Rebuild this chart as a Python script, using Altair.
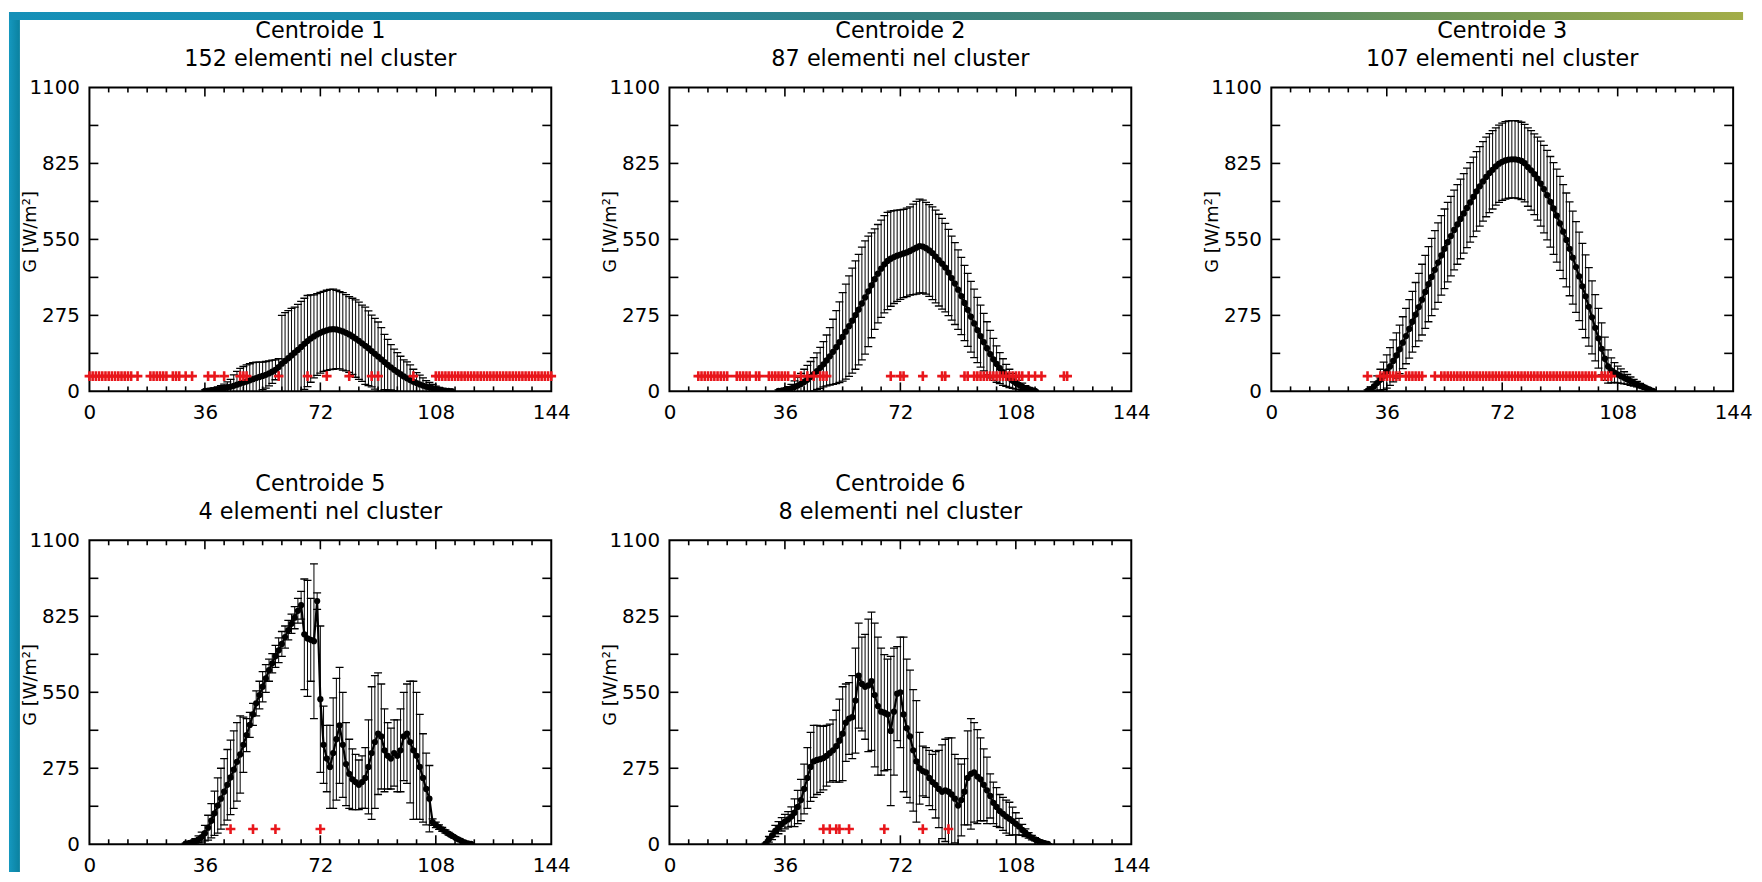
import altair as alt
import pandas as pd

FONT = "DejaVu Sans"
W, H = 465, 306

# ---------------- axis tick values ----------------
X_LABELS = [0, 36, 72, 108, 144]
X_MAJOR_IN = [36, 72, 108]
X_MINOR = [6, 12, 18, 24, 30, 42, 48, 54, 60, 66, 78, 84, 90, 96, 102, 114, 120, 126, 132, 138]
Y_LABELS = [0, 275, 550, 825, 1100]
Y_TICKS = [137.5, 275, 412.5, 550, 687.5, 825, 962.5]
RED_LEVEL = 55
Y_TITLE = "G [W/m\u00b2]"

# ---------------- Centroide 1 ----------------
P1_TITLE = ["Centroide 1", "152 elementi nel cluster"]
P1_START = 36
P1_MEAN = [2, 3, 4, 5, 7, 9, 11, 14, 17, 20,
           24, 28, 32, 36, 40, 44, 48, 52, 56, 60,
           65, 71, 78, 88, 100, 110, 120, 130, 140, 150,
           161, 172, 182, 191, 199, 206, 212, 217, 221, 224,
           225, 224, 221, 217, 212, 206, 199, 191, 183, 174,
           165, 156, 146, 136, 126, 116, 106, 96, 87, 78,
           70, 62, 54, 47, 41, 35, 30, 25, 21, 17,
           14, 11, 8, 6, 4, 3, 2, 1]
P1_STD = [3, 4, 5, 7, 9, 12, 15, 20, 26, 40,
          48, 55, 58, 60, 60, 60, 58, 54, 50, 48,
          45, 42, 36, 30, 175, 175, 172, 170, 165, 165,
          165, 165, 165, 158, 150, 148, 146, 145, 145, 145,
          145, 142, 140, 140, 138, 137, 138, 140, 140, 138,
          140, 135, 130, 128, 125, 115, 100, 92, 82, 75,
          70, 65, 60, 60, 55, 45, 38, 34, 28, 22,
          18, 14, 11, 8, 6, 4, 2, 1]
P1_RED = [0, 1, 2, 3, 4, 5, 6, 7, 8, 9, 10, 11, 12, 13, 15,
          19, 20, 21, 22, 23, 24, 26, 27, 28, 30, 32,
          37, 39, 42, 47, 48, 49, 59, 68, 74, 81, 88, 90, 101,
          108, 109, 110, 111, 112, 113, 114, 115, 116, 117, 118, 119, 120,
          121, 122, 123, 124, 125, 126, 127, 128, 129, 130, 131, 132, 133,
          134, 135, 136, 137, 138, 139, 140, 141, 142, 143, 144]

# ---------------- Centroide 2 ----------------
P2_TITLE = ["Centroide 2", "87 elementi nel cluster"]
P2_START = 34
P2_MEAN = [2, 3, 5, 8, 11, 16, 21, 27, 34, 42,
           52, 62, 73, 85, 98, 112, 127, 143, 160, 178,
           197, 216, 236, 256, 276, 296, 318, 340, 362, 384,
           406, 426, 444, 460, 472, 480, 486, 491, 495, 499,
           503, 508, 514, 520, 526, 524, 518, 510, 500, 488,
           475, 462, 448, 430,
           410, 390, 368, 345, 320, 295, 270, 246, 222, 200,
           178, 156, 135, 116, 99, 84, 70, 58, 47, 38,
           30, 23, 17, 12, 8, 4, 2]
P2_STD = [3, 4, 6, 9, 14, 22, 30, 38, 46, 52,
          56, 60, 66, 74, 82, 92, 104, 118, 132, 146,
          160, 172, 182, 190, 196, 200, 204, 205, 200, 190,
          182, 178, 176, 176, 176, 172, 168, 165, 162, 160,
          160, 160, 164, 168, 170, 168, 166, 166, 168, 168,
          166, 164, 160, 156, 152, 148, 144, 140, 136, 132,
          128, 124, 118, 112, 104, 96, 86, 76, 66, 56,
          48, 40, 33, 27, 22, 17, 13, 9, 6, 4,
          2]
P2_RED = [9, 10, 11, 12, 13, 14, 15, 16, 17, 18,
          21, 22, 23, 24, 25, 27, 28, 31, 32, 33, 34, 35, 36, 37,
          39, 41, 43, 45, 47, 48, 49, 69, 72, 73, 79, 85, 86, 92, 93,
          95, 96, 97, 98, 99, 100, 101, 102, 103, 104, 105, 106, 107, 108, 109, 110,
          112, 114, 116, 123, 124]

# ---------------- Centroide 3 ----------------
P3_TITLE = ["Centroide 3", "107 elementi nel cluster"]
P3_START = 30
P3_MEAN = [2, 8, 18, 30, 42, 56, 72, 90, 110, 130,
           152, 176, 200, 226, 252, 278, 305, 332, 360, 388,
           414, 440, 466, 492, 516, 540, 562, 584, 604, 624,
           644, 664, 684, 704, 724, 742, 760, 776, 790, 802,
           814, 824, 831, 836, 839, 840, 840, 838, 834, 826,
           812, 800, 786, 770, 752, 732, 710, 686, 662, 636,
           608, 578, 548, 516, 484, 450, 416, 380, 344, 306,
           268, 230, 192, 154, 118, 90, 76, 68, 61, 55,
           49, 43, 37, 31, 26, 21, 16, 11, 6, 2]
P3_STD = [3, 8, 16, 26, 38, 50, 60, 68, 76, 82,
          88, 94, 100, 106, 110, 116, 122, 128, 132, 136,
          140, 142, 144, 144, 144, 144, 144, 144, 144, 144,
          144, 144, 144, 144, 144, 144, 144, 144, 143, 142,
          140, 140, 140, 140, 140, 140, 140, 140, 140, 140,
          142, 144, 146, 150, 154, 158, 162, 164, 166, 168,
          170, 170, 170, 170, 168, 164, 160, 156, 150, 142,
          132, 120, 108, 94, 78, 60, 45, 36, 30, 26,
          22, 18, 15, 12, 10, 8, 6, 4, 3, 2]
P3_RED = [30, 34, 35, 36, 37, 38, 39, 40, 42, 43, 44, 45, 46, 47, 51,
          53, 54, 55, 56, 57, 58, 59, 60, 61, 62, 63, 64, 65, 66, 67, 68, 69, 70,
          71, 72, 73, 74, 75, 76, 77, 78, 79, 80, 81, 82, 83, 84, 85, 86, 87, 88,
          89, 90, 91, 92, 93, 94, 95, 96, 97, 98, 99, 100, 101,
          103, 104, 105, 106]

# ---------------- Centroide 5 ----------------
P5_TITLE = ["Centroide 5", "4 elementi nel cluster"]
P5_START = 30
P5_MEAN = [2, 4, 8, 12, 18, 26, 40, 60, 85, 112,
           140, 165, 190, 215, 242, 270, 298, 325, 360, 395,
           432, 470, 510, 540, 570, 600, 630, 655, 680, 702,
           725, 750, 775, 798, 820, 845, 865, 760, 745, 740,
           735, 880, 525, 360, 310, 280, 330, 380, 430, 360,
           290, 255, 235, 225, 215, 225, 240, 280, 330, 370,
           400, 390, 340, 320, 310, 330, 320, 340, 390, 400,
           370, 340, 320, 280, 240, 200, 165, 80, 70, 62,
           54, 46, 38, 31, 24, 18, 12, 7, 3, 1]
P5_STD = [2, 3, 5, 8, 12, 18, 28, 45, 62, 80,
          100, 110, 120, 128, 135, 140, 142, 140, 100, 60,
          45, 40, 45, 50, 55, 50, 40, 35, 40, 45,
          45, 40, 35, 35, 40, 45, 50, 200, 210, 150,
          280, 30, 265, 140, 120, 150, 200, 220, 210, 190,
          150, 125, 110, 100, 90, 95, 110, 170, 240, 240,
          220, 190, 150, 120, 110, 120, 130, 150, 160, 180,
          220, 250, 230, 190, 160, 130, 120, 12, 10, 8,
          7, 6, 5, 4, 3, 3, 2, 2, 1, 1]
P5_RED = [44, 51, 58, 72]

# ---------------- Centroide 6 ----------------
P6_TITLE = ["Centroide 6", "8 elementi nel cluster"]
P6_START = 30
P6_MEAN = [2, 18, 32, 48, 60, 72, 82, 90, 100, 114,
           135, 160, 200, 240, 280, 300, 305, 308, 312, 320,
           330, 340, 355, 375, 400, 440, 455, 460, 520, 610,
           580, 570, 575, 590, 540, 500, 480, 476, 470, 410,
           480, 545, 550, 470, 420, 390, 340, 300, 275, 265,
           260, 240, 225, 215, 200, 190, 195, 190, 180, 165,
           140, 160, 190, 240, 255, 260, 245, 235, 215, 195,
           175, 150, 135, 120, 110, 100, 92, 84, 74, 64,
           52, 42, 32, 24, 18, 12, 8, 4, 1]
P6_STD = [2, 10, 15, 20, 22, 24, 26, 28, 35, 50,
          60, 75, 90, 110, 125, 130, 125, 120, 115, 110,
          105, 110, 130, 150, 170, 140, 130, 150, 190, 190,
          170, 190, 240, 250, 260, 250, 230, 210, 200, 270,
          230, 170, 200, 280, 250, 240, 220, 220, 130, 90,
          90, 100, 100, 120, 140, 170, 185, 195, 205, 160,
          170, 130, 120, 170, 200, 180, 170, 150, 130, 120,
          80, 75, 70, 60, 60, 60, 60, 50, 40, 30,
          20, 14, 10, 8, 6, 4, 3, 2, 1]
P6_RED = [48, 50, 52, 53, 56, 67, 79, 87]

# ---------------- decoration colours ----------------
TOP_STOPS = [("#1590b8", 0.0), ("#1d8aa8", 0.3), ("#327f84", 0.5),
             ("#4d8569", 0.7), ("#789a55", 0.86), ("#a3ad48", 1.0)]
LEFT_STOPS = [("#1598bf", 0.0), ("#0b819f", 1.0)]

xsc = alt.Scale(domain=[0, 144], nice=False, zero=False)
ysc = alt.Scale(domain=[0, 1100], nice=False, zero=False)
xax = alt.Axis(values=X_LABELS, labelPadding=11, ticks=False, tickSize=0,
               domain=False, grid=False, labelFlush=False, format="d")
yax = alt.Axis(values=Y_LABELS, labelPadding=10, ticks=False, tickSize=0,
               domain=False, grid=False, format="d", titleX=-59, titleY=145,
               titleBaseline="middle", titleFontSize=18)


def X(f):
    return alt.X(f, type="quantitative", scale=xsc, axis=xax, title=None)


def Y(f):
    return alt.Y(f, type="quantitative", scale=ysc, axis=yax, title=Y_TITLE)


def gradient(stops):
    return alt.LinearGradient(gradient="linear", x1=0, x2=1, y1=0, y2=0,
                              stops=[alt.GradientStop(color=c, offset=o) for c, o in stops])


def make_panel(title, start, mean, std, red):
    xs = list(range(start, start + len(mean)))
    d = pd.DataFrame({"x": xs, "m": mean, "s": std})
    d["lo"] = d["m"] - d["s"]
    d["hi"] = d["m"] + d["s"]
    base = alt.Chart(d)
    bars = base.mark_rule(color="black", strokeWidth=1, clip=True).encode(
        x=X("x"), y=Y("lo"), y2="hi")
    cap_hi = base.mark_tick(orient="horizontal", size=8, thickness=1.3,
                            color="black", opacity=1, clip=True).encode(x=X("x"), y=Y("hi"))
    cap_lo = base.mark_tick(orient="horizontal", size=8, thickness=1.3,
                            color="black", opacity=1, clip=True).encode(x=X("x"), y=Y("lo"))
    line = base.mark_line(color="black", strokeWidth=2.2, clip=True).encode(
        x=X("x"), y=Y("m"))
    dots = base.mark_circle(size=40, color="black", opacity=1, clip=True).encode(
        x=X("x"), y=Y("m"))
    rd = pd.DataFrame({"x": red, "y": [RED_LEVEL] * len(red)})
    reds = alt.Chart(rd).mark_point(
        shape="M-1,0L1,0M0,-1L0,1", size=95, color="#e8161b", filled=False,
        strokeWidth=2.6, opacity=1).encode(x=X("x"), y=Y("y"))

    xmin = alt.Chart(pd.DataFrame({"t": X_MINOR}))
    xmaj = alt.Chart(pd.DataFrame({"t": X_MAJOR_IN}))
    ytk = alt.Chart(pd.DataFrame({"t": Y_TICKS}))
    tk = dict(color="black", strokeWidth=1.6)
    t1 = xmin.mark_rule(**tk).encode(x=X("t"), y=alt.value(H), y2=alt.value(H - 5))
    t2 = xmin.mark_rule(**tk).encode(x=X("t"), y=alt.value(0), y2=alt.value(5))
    t3 = xmaj.mark_rule(**tk).encode(x=X("t"), y=alt.value(H), y2=alt.value(H - 9))
    t4 = xmaj.mark_rule(**tk).encode(x=X("t"), y=alt.value(0), y2=alt.value(9))
    t5 = ytk.mark_rule(**tk).encode(y=Y("t"), x=alt.value(0), x2=alt.value(9))
    t6 = ytk.mark_rule(**tk).encode(y=Y("t"), x=alt.value(W - 9), x2=alt.value(W))

    return alt.layer(bars, cap_hi, cap_lo, line, dots, reds, t1, t2, t3, t4, t5, t6).properties(
        width=W, height=H,
        title=alt.TitleParams(text=title, fontSize=22.5, font=FONT, fontWeight="normal",
                              lineHeight=28, anchor="middle", frame="group", offset=7,
                              color="black"))


def spacer(w, deco=False):
    one = alt.Chart(pd.DataFrame({"k": [0]}))
    layers = [one.mark_rect(opacity=0).encode(
        x=alt.value(0), x2=alt.value(1), y=alt.value(0), y2=alt.value(1))]
    if deco:
        # page border (left strip + top strip), placed relative to this empty cell
        layers.append(one.mark_rect(color=gradient(LEFT_STOPS)).encode(
            x=alt.value(-546), x2=alt.value(-535), y=alt.value(-76), y2=alt.value(790)))
        layers.append(one.mark_rect(color=gradient(TOP_STOPS)).encode(
            x=alt.value(-546), x2=alt.value(1200), y=alt.value(-76), y2=alt.value(-68)))
    return alt.layer(*layers).properties(
        width=w, height=H, view=alt.ViewBackground(stroke="transparent"))


p1 = make_panel(P1_TITLE, P1_START, P1_MEAN, P1_STD, P1_RED)
p2 = make_panel(P2_TITLE, P2_START, P2_MEAN, P2_STD, P2_RED)
p3 = make_panel(P3_TITLE, P3_START, P3_MEAN, P3_STD, P3_RED)
p5 = make_panel(P5_TITLE, P5_START, P5_MEAN, P5_STD, P5_RED)
p6 = make_panel(P6_TITLE, P6_START, P6_MEAN, P6_STD, P6_RED)

GAP12, GAP23, ROWGAP = 119, 141, 150

chart = alt.concat(
    p1, spacer(GAP12, deco=True), p2, spacer(GAP23), p3,
    p5, spacer(GAP12), p6,
    columns=5, bounds="flush",
    spacing=alt.RowColnumber(row=ROWGAP, column=0),
).properties(padding=0, background="white").configure_view(
    stroke="black", strokeWidth=2
).configure_axis(
    labelFont=FONT, labelFontSize=20, labelColor="black",
    titleFont=FONT, titleFontSize=18, titleFontWeight="normal", titleColor="black"
).configure_title(font=FONT, color="black")

chart.save("out.html", embed_options={"renderer": "svg", "actions": False})
